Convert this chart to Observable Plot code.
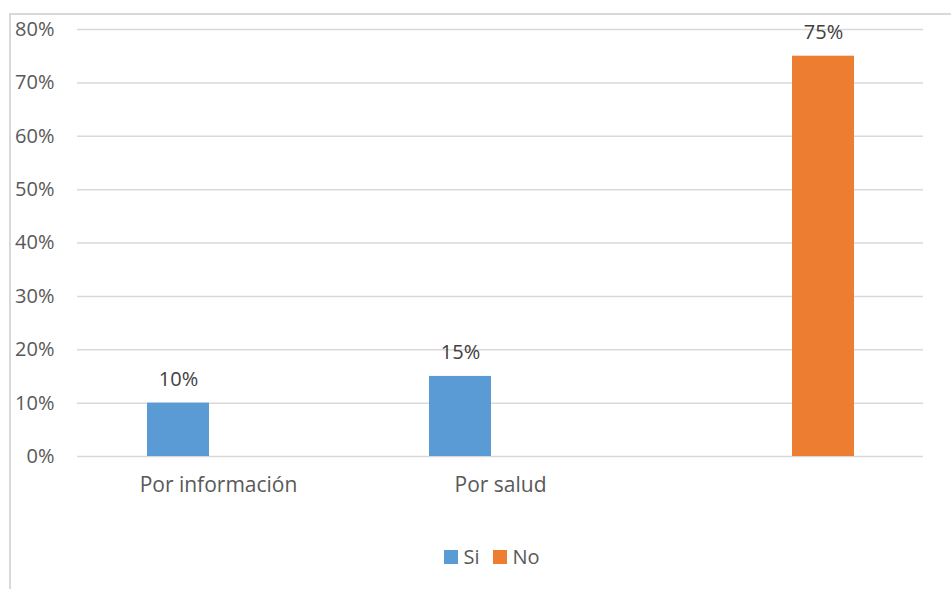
<!DOCTYPE html>
<html>
<head>
<meta charset="utf-8">
<script src="https://cdn.jsdelivr.net/npm/d3@7"></script>
<script src="https://cdn.jsdelivr.net/npm/@observablehq/plot@0.6"></script>
<style>
  html, body { margin: 0; padding: 0; background: #fff; }
  body { width: 951px; height: 589px; position: relative; overflow: hidden; font-family: "Open Sans", sans-serif; }
  #frame { position: absolute; left: 9px; top: 13px; right: -5px; bottom: -5px; border-left: 2px solid #d9d9d9; border-top: 2px solid #d9d9d9; }
  #chart { position: absolute; left: 0; top: 0; }
  #legend { position: absolute; left: 0; top: 543px; width: 984px; display: flex; justify-content: center; align-items: center; font-size: 20px; color: #595959; gap: 6px; }
  .sw { width: 14px; height: 14px; display: inline-block; }
  #chart g[aria-label="fx-axis tick label"] text { font-size: 21px; }
</style>
</head>
<body>
<div id="frame"></div>
<div id="chart"></div>
<div id="legend"></div>
<script>
const categories = ["Por información", "Por salud", " "];
const series = ["Si", "No"];
const seriesOfBar = ["Si", "Si", "No"];
const values = [0.10, 0.15, 0.75];
const yTicks = [0, 0.1, 0.2, 0.3, 0.4, 0.5, 0.6, 0.7, 0.8];
const colors = ["#5B9BD5", "#ED7D31"];

const data = categories.map((c, i) => ({group: c, series: seriesOfBar[i], value: values[i]}));

const chart = Plot.plot({
  width: 951,
  height: 520,
  marginLeft: 77,
  marginRight: 28,
  marginTop: 29,
  marginBottom: 64,
  style: {fontFamily: "Open Sans, sans-serif", fontSize: "20px", color: "#595959", background: "transparent", overflow: "visible"},
  fx: {domain: categories, padding: 0, label: null, tickSize: 0, tickPadding: 21, axis: "bottom"},
  x: {domain: series, paddingInner: 0.24, paddingOuter: 0.85, axis: null},
  y: {domain: [0, 0.8], ticks: yTicks, tickFormat: d3.format(".0%"), tickSize: 0, tickPadding: 23, label: null},
  color: {domain: series, range: colors},
  marks: [
    Plot.ruleY(yTicks, {stroke: "#d9d9d9", strokeWidth: 1.5}),
    Plot.barY(data, {fx: "group", x: "series", y: "value", fill: "series"}),
    Plot.text(data, {fx: "group", x: "series", y: "value", text: d => d3.format(".0%")(d.value), dy: -24, fill: "#404040", fontSize: 20})
  ]
});
document.getElementById("chart").appendChild(chart);

const legend = document.getElementById("legend");
series.forEach((s, i) => {
  const item = document.createElement("span");
  item.style.display = "inline-flex";
  item.style.alignItems = "center";
  item.style.gap = "5px";
  item.style.marginRight = i === 0 ? "8px" : "0";
  const sw = document.createElement("span");
  sw.className = "sw";
  sw.style.background = colors[i];
  const t = document.createElement("span");
  t.textContent = s;
  item.appendChild(sw);
  item.appendChild(t);
  legend.appendChild(item);
});
</script>
</body>
</html>
